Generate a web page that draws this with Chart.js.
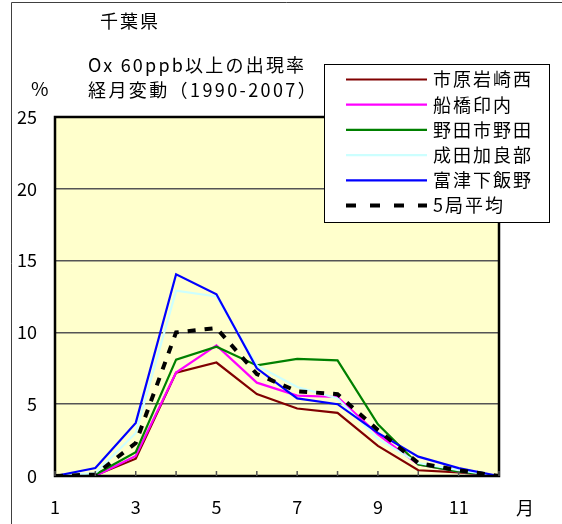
<!DOCTYPE html>
<html><head><meta charset="utf-8">
<script src="https://cdn.jsdelivr.net/npm/chart.js@4/dist/chart.umd.min.js"></script>
<style>html,body{margin:0;padding:0;background:#fff;}#wrap{width:562px;height:524px;position:relative;}</style>
</head><body><div id="wrap"><canvas id="c" width="562" height="524"></canvas></div>
<script>
const months = [1,2,3,4,5,6,7,8,9,10,11,12];
const xTickLabels = ['1','3','5','7','9','11'];
const seriesNames = ['市原岩崎西','船橋印内','野田市野田','成田加良部','富津下飯野','5局平均'];
const ichihara = [0,0.05,1.2,7.2,7.9,5.7,4.7,4.4,2.1,0.4,0.25,0];
const funabashi = [0,0,1.4,7.2,9.1,6.5,5.6,5.5,2.9,0.8,0.3,0];
const noda = [0,0.1,1.65,8.1,9.0,7.7,8.15,8.05,3.6,0.8,0.3,0];
const narita = [0,0.2,3.0,12.9,12.5,7.7,6.2,5.4,2.6,0.9,0.4,0];
const futtsu = [0,0.55,3.7,14.05,12.65,7.5,5.4,5.0,3.0,1.35,0.55,0];
const average = [0,0.1,2.3,10.0,10.3,7.1,5.9,5.7,3.2,0.9,0.4,0];
const yTicks = [0,5,10,15,20,25];
const colors = ['#800000','#FF00FF','#008000','#CCFFFF','#0000FF','#000000'];

const allSeries = [ichihara, funabashi, noda, narita, futtsu, average];
const datasets = allSeries.map((arr,i)=>({
  label: seriesNames[i],
  data: months.map((m,j)=>({x:m,y:arr[j]})),
  borderColor: colors[i],
  backgroundColor: colors[i],
  borderWidth: i===5?4:2.2,
  borderDash: i===5?[8,9]:[],
  pointRadius: 0,
  tension: 0,
  fill: false,
  order: i===5?0:(i===4?1:(6-i))
}));

const FONT = '"Noto Sans CJK JP", "Noto Sans", sans-serif';

const deco = {
  id: 'deco',
  beforeDraw(chart){
    const {ctx, chartArea:a} = chart;
    ctx.save();
    ctx.fillStyle = '#FFFFCC';
    ctx.fillRect(a.left, a.top, a.right-a.left, a.bottom-a.top);
    ctx.strokeStyle = '#404040';
    ctx.lineWidth = 1;
    ctx.beginPath();
    ctx.moveTo(11.5, 524); ctx.lineTo(11.5, 2.5); ctx.lineTo(562, 2.5);
    ctx.stroke();
    ctx.restore();
  },
  afterDraw(chart){
    const {ctx, chartArea:a, scales} = chart;
    ctx.save();
    ctx.strokeStyle = '#000';
    ctx.lineWidth = 2.5;
    ctx.strokeRect(a.left, a.top, a.right-a.left, a.bottom-a.top);
    ctx.strokeStyle = '#555';
    ctx.lineWidth = 1.5;
    months.forEach(m=>{
      const x = scales.x.getPixelForValue(m);
      ctx.beginPath(); ctx.moveTo(x, a.bottom); ctx.lineTo(x, a.bottom-5); ctx.stroke();
    });
    ctx.fillStyle = '#000';
    ctx.textBaseline = 'middle';
    ctx.textAlign = 'left';
    ctx.font = '18px ' + FONT;
    ctx.letterSpacing = '2px';
    ctx.fillText('千葉県', 100, 21);
    ctx.letterSpacing = '2.2px';
    ctx.fillText('Ox 60ppb以上の出現率', 88, 65);
    ctx.letterSpacing = '2.4px';
    ctx.fillText('経月変動（1990-2007）', 88, 90);
    ctx.letterSpacing = '0px';
    ctx.font = '19px ' + FONT;
    ctx.fillText('%', 31, 89);
    ctx.font = '18px ' + FONT;
    ctx.fillText('月', 516, 508);
    const lx=324, ly=64, lw=225, lh=158;
    ctx.fillStyle = '#fff';
    ctx.fillRect(lx, ly, lw, lh);
    ctx.strokeStyle = '#000';
    ctx.lineWidth = 1;
    ctx.strokeRect(lx+0.5, ly+0.5, lw, lh);
    chart.data.datasets.forEach((ds,i)=>{
      const y = 79.5 + i*25.2;
      ctx.strokeStyle = ds.borderColor;
      ctx.lineWidth = ds.borderWidth;
      ctx.setLineDash(ds.borderDash.length?[10,14]:[]);
      ctx.beginPath(); ctx.moveTo(346, y); ctx.lineTo(427, y); ctx.stroke();
      ctx.setLineDash([]);
      ctx.fillStyle = '#000';
      ctx.font = '18px ' + FONT;
      ctx.letterSpacing = '2px';
      ctx.fillText(ds.label, 433, y);
      ctx.letterSpacing = '0px';
    });
    ctx.restore();
  }
};

new Chart(document.getElementById('c'), {
  type: 'line',
  data: { datasets },
  options: {
    responsive: false,
    animation: false,
    devicePixelRatio: 1,
    layout: { padding: { top: 117, right: 63, left: 0, bottom: 0 } },
    plugins: { legend: { display: false }, tooltip: { enabled: false }, title: { display: false } },
    scales: {
      x: {
        type: 'linear', min: 1, max: 12,
        afterFit(s){ s.height = 48; },
        afterBuildTicks(s){ s.ticks = months.map(v=>({value:v})); },
        grid: { display: false, drawTicks: false },
        border: { display: false },
        ticks: {
          padding: 20, color: '#000', autoSkip: false, maxRotation: 0,
          font: { family: FONT, size: 18 },
          callback(v){ const s = String(v); return xTickLabels.includes(s) ? s : ''; }
        }
      },
      y: {
        min: 0, max: 25,
        afterFit(s){ s.width = 55; },
        afterBuildTicks(s){ s.ticks = yTicks.map(v=>({value:v})); },
        grid: { color: '#555', lineWidth: 1.5, drawTicks: false },
        border: { display: false },
        ticks: { padding: 18, color: '#000', font: { family: FONT, size: 18 } }
      }
    }
  },
  plugins: [deco]
});
</script>
</body></html>
